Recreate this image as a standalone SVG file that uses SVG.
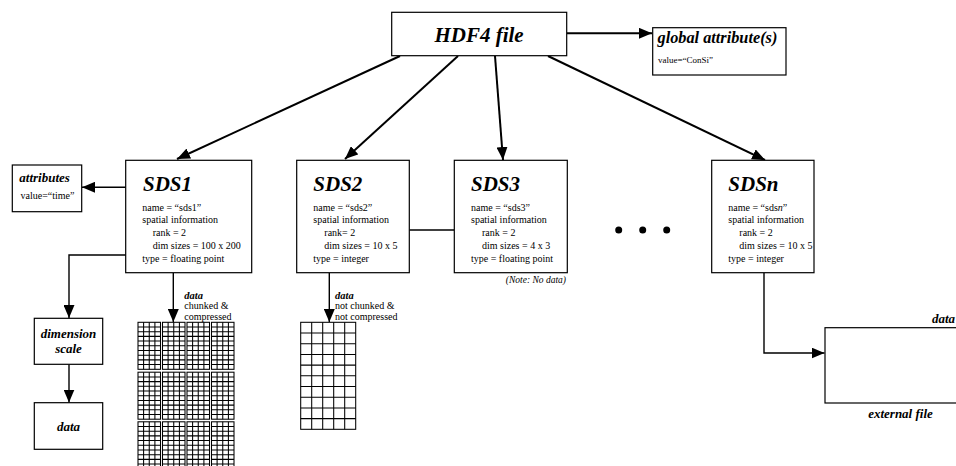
<svg xmlns="http://www.w3.org/2000/svg" xmlns:xlink="http://www.w3.org/1999/xlink" width="956" height="466" viewBox="0 0 956 466">
<style>
  .box{fill:#fff;stroke:#000;stroke-width:1.2}
  .t{font-family:"Liberation Serif","Times New Roman",serif;fill:#000}
  .bi{font-weight:bold;font-style:italic}
  .it{font-style:italic}
  .body{font-size:10px}
  .title{font-size:21px}
  .small{font-size:10px}
  .conn{fill:none;stroke:#000;stroke-width:2}
  .thin{fill:none;stroke:#000;stroke-width:1.4}
  .grid{fill:none;stroke:#000;stroke-width:1.05}
</style>
<defs>
  <marker id="arr" markerUnits="userSpaceOnUse" markerWidth="13" markerHeight="11" refX="13" refY="5.5" orient="auto">
    <path d="M0,0 L13,5.5 L0,11 z" fill="#000"/>
  </marker>
  <g id="chunk">
    <rect x="0" y="0" width="22.5" height="47" class="grid"/>
    <path class="grid" d="M5.6,0V47M11.25,0V47M16.9,0V47M0,4.7H22.5M0,9.4H22.5M0,14.1H22.5M0,18.8H22.5M0,23.5H22.5M0,28.2H22.5M0,32.9H22.5M0,37.6H22.5M0,42.3H22.5"/>
  </g>
</defs>

<g id="connectors">
  <line class="conn" x1="567" y1="33.3" x2="652" y2="33.3" marker-end="url(#arr)"/>
  <line class="conn" x1="400" y1="56" x2="177" y2="159" marker-end="url(#arr)"/>
  <line class="conn" x1="458" y1="56" x2="345" y2="159" marker-end="url(#arr)"/>
  <line class="conn" x1="495" y1="56" x2="503" y2="160" marker-end="url(#arr)"/>
  <line class="conn" x1="548" y1="56" x2="765" y2="160" marker-end="url(#arr)"/>
  <line class="thin" x1="126" y1="187.3" x2="82" y2="187.3" marker-end="url(#arr)"/>
  <polyline class="thin" points="126,255 69,255 69,318" marker-end="url(#arr)"/>
  <line class="thin" x1="69" y1="364.5" x2="69" y2="402.5" marker-end="url(#arr)"/>
  <line class="thin" x1="173.3" y1="273" x2="173.3" y2="322" marker-end="url(#arr)"/>
  <line class="thin" x1="329.3" y1="273" x2="329.3" y2="322" marker-end="url(#arr)"/>
  <line class="thin" x1="409.3" y1="230" x2="454.3" y2="230"/>
  <polyline class="thin" points="764,273 764,353 824.5,353" marker-end="url(#arr)"/>
</g>

<g id="hdf4">
  <rect class="box" x="391.7" y="12.3" width="175" height="43.4"/>
  <text class="t bi" x="479" y="41.7" font-size="21" text-anchor="middle">HDF4 file</text>
</g>

<g id="global-attr">
  <rect class="box" x="652.7" y="27.7" width="133.3" height="47.3"/>
  <text class="t bi" x="657.5" y="43" font-size="16.3">global attribute(s)</text>
  <text class="t" x="658" y="63.3" font-size="9">value=“ConSi”</text>
</g>

<g id="attributes">
  <rect class="box" x="12.3" y="165" width="69.4" height="46.7"/>
  <text class="t bi" x="19.3" y="181.7" font-size="13">attributes</text>
  <text class="t" x="20.5" y="199" font-size="10">value=“time”</text>
</g>

<g id="sds1">
  <rect class="box" x="125.7" y="160.3" width="126" height="112.4"/>
  <text class="t bi title" x="143" y="190.7">SDS1</text>
  <text class="t body" x="142.3" y="211">name = “sds1”</text>
  <text class="t body" x="142.3" y="223.3">spatial information</text>
  <text class="t body" x="152.7" y="236">rank = 2</text>
  <text class="t body" x="152.7" y="249">dim sizes = 100 x 200</text>
  <text class="t body" x="142.3" y="261.7">type = floating point</text>
</g>

<g id="sds2">
  <rect class="box" x="296.7" y="160.3" width="112.6" height="112.4"/>
  <text class="t bi title" x="313.3" y="190.7">SDS2</text>
  <text class="t body" x="313.3" y="211">name = “sds2”</text>
  <text class="t body" x="313.3" y="223.3">spatial information</text>
  <text class="t body" x="324.3" y="236">rank= 2</text>
  <text class="t body" x="324.3" y="249">dim sizes = 10 x 5</text>
  <text class="t body" x="313.3" y="261.7">type = integer</text>
</g>

<g id="sds3">
  <rect class="box" x="454.3" y="160.3" width="113" height="112.4"/>
  <text class="t bi title" x="471" y="190.7">SDS3</text>
  <text class="t body" x="471" y="211">name = “sds3”</text>
  <text class="t body" x="471" y="223.3">spatial information</text>
  <text class="t body" x="482" y="236">rank = 2</text>
  <text class="t body" x="482" y="249">dim sizes = 4 x 3</text>
  <text class="t body" x="471" y="261.7">type = floating point</text>
  <text class="t it" x="566" y="283" font-size="9.5" text-anchor="end">(Note: No data)</text>
</g>

<g id="ellipsis">
  <circle cx="618.7" cy="230" r="3.5" fill="#000"/>
  <circle cx="642.7" cy="230" r="3.5" fill="#000"/>
  <circle cx="666.7" cy="230" r="3.5" fill="#000"/>
</g>

<g id="sdsn">
  <rect class="box" x="711.7" y="160.3" width="102.3" height="112.4"/>
  <text class="t bi title" x="728.3" y="190.7">SDSn</text>
  <text class="t body" x="728.3" y="211">name = “sds<tspan font-style="italic">n</tspan>”</text>
  <text class="t body" x="728.3" y="223.3">spatial information</text>
  <text class="t body" x="739.3" y="236">rank = 2</text>
  <text class="t body" x="739.3" y="249">dim sizes = 10 x 5</text>
  <text class="t body" x="728.3" y="261.7">type = integer</text>
</g>

<g id="dimension-scale">
  <rect class="box" x="34.3" y="318.3" width="68.4" height="46"/>
  <text class="t bi" x="68.5" y="337.7" font-size="13" text-anchor="middle">dimension</text>
  <text class="t bi" x="68.5" y="353.3" font-size="13" text-anchor="middle">scale</text>
</g>

<g id="dim-data">
  <rect class="box" x="34.3" y="402.7" width="68.4" height="46.6"/>
  <text class="t bi" x="68.5" y="431" font-size="13" text-anchor="middle">data</text>
</g>

<g id="sds1-data">
  <text class="t bi" x="184.3" y="299" font-size="10.5">data</text>
  <text class="t small" x="184.3" y="309.4">chunked &amp;</text>
  <text class="t small" x="184.3" y="319.6">compressed</text>
  <use xlink:href="#chunk" x="138" y="322.3"/>
  <use xlink:href="#chunk" x="162.5" y="322.3"/>
  <use xlink:href="#chunk" x="187" y="322.3"/>
  <use xlink:href="#chunk" x="211.5" y="322.3"/>
  <use xlink:href="#chunk" x="138" y="372.2"/>
  <use xlink:href="#chunk" x="162.5" y="372.2"/>
  <use xlink:href="#chunk" x="187" y="372.2"/>
  <use xlink:href="#chunk" x="211.5" y="372.2"/>
  <use xlink:href="#chunk" x="138" y="421.8"/>
  <use xlink:href="#chunk" x="162.5" y="421.8"/>
  <use xlink:href="#chunk" x="187" y="421.8"/>
  <use xlink:href="#chunk" x="211.5" y="421.8"/>
</g>

<g id="sds2-data">
  <text class="t bi" x="335" y="299" font-size="10.5">data</text>
  <text class="t small" x="335" y="309.4">not chunked &amp;</text>
  <text class="t small" x="335" y="319.6">not compressed</text>
  <rect class="grid" x="300.7" y="322.3" width="55" height="107"/>
  <path class="grid" d="M311.7,322.3V429.3M322.7,322.3V429.3M333.7,322.3V429.3M344.7,322.3V429.3M300.7,333H355.7M300.7,343.7H355.7M300.7,354.4H355.7M300.7,365.1H355.7M300.7,375.8H355.7M300.7,386.5H355.7M300.7,397.2H355.7M300.7,407.9H355.7M300.7,418.6H355.7"/>
</g>

<g id="external-file">
  <rect class="box" x="825" y="327.7" width="140" height="75.3"/>
  <text class="t bi" x="955" y="323.3" font-size="13" text-anchor="end">data</text>
  <text class="t bi" x="900.5" y="418.3" font-size="13" text-anchor="middle">external file</text>
</g>
</svg>
